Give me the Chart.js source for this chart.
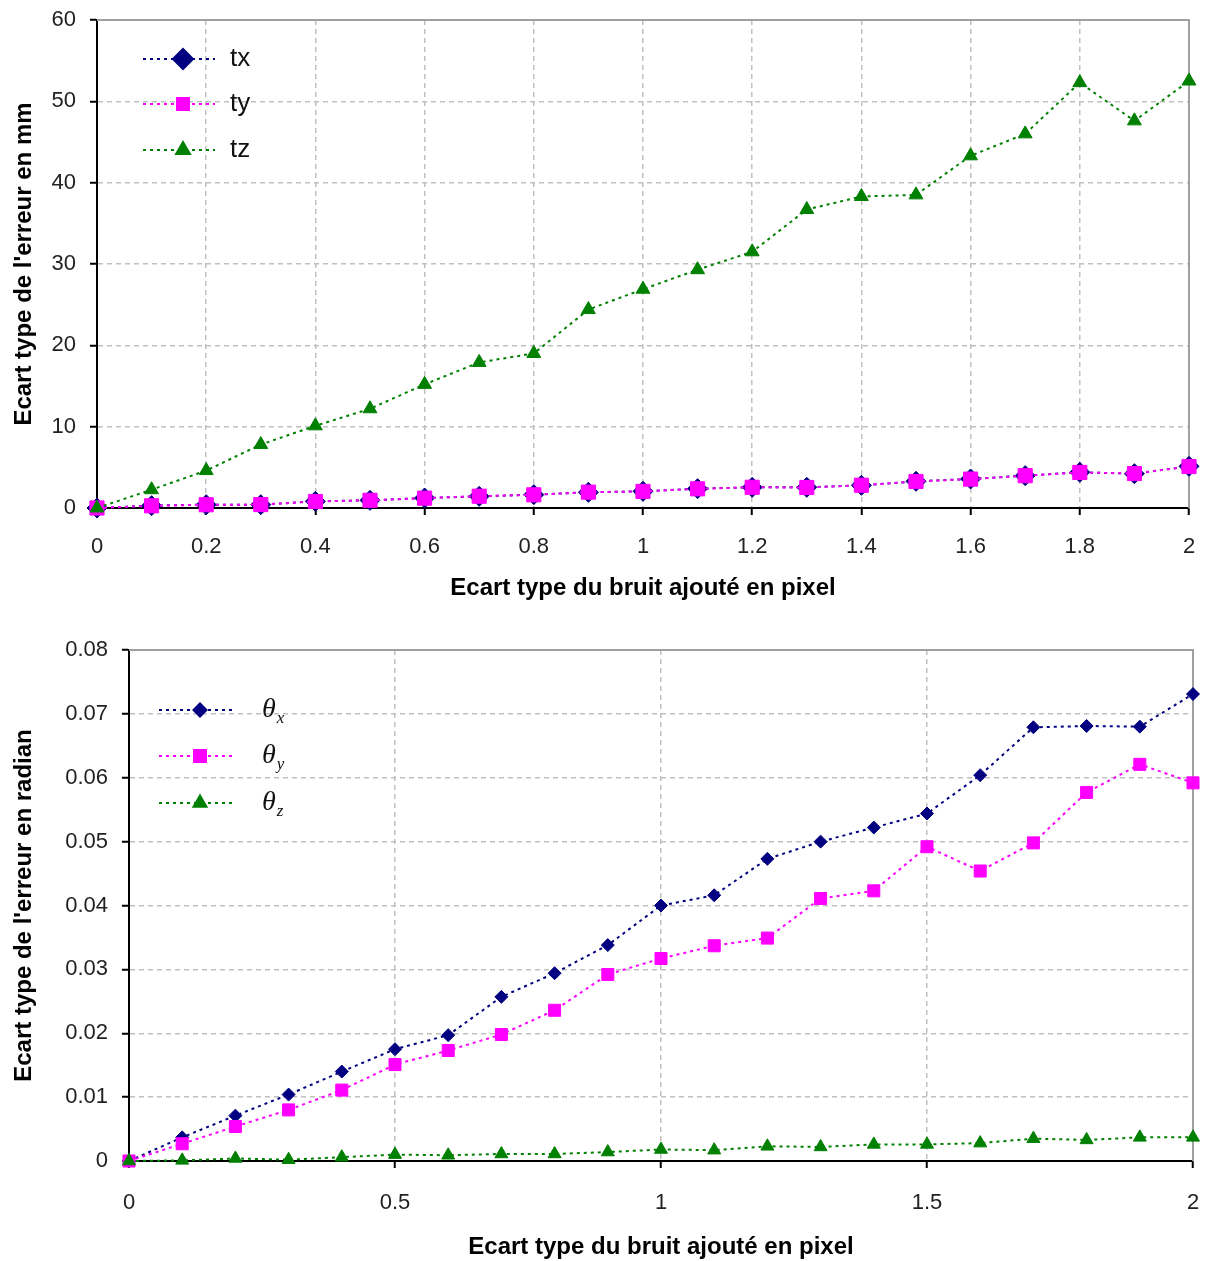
<!DOCTYPE html>
<html lang="fr">
<head>
<meta charset="utf-8">
<title>Ecart type de l'erreur</title>
<script src="https://cdn.jsdelivr.net/npm/chart.js@4.4.1/dist/chart.umd.min.js"></script>
<style>
  html, body { margin: 0; padding: 0; background: #fff; }
  #wrap { position: relative; width: 1206px; height: 1261px; }
  #wrap canvas { position: absolute; left: 0; }
  #transChart { top: 0; }
  #rotChart { top: 600px; }
</style>
</head>
<body>
<div id="wrap">
  <canvas id="transChart" width="1206" height="600"></canvas>
  <canvas id="rotChart" width="1206" height="661"></canvas>
</div>
<script>
// Ecart type du bruit ajouté (pixel)
const noise = [0, 0.1, 0.2, 0.3, 0.4, 0.5, 0.6, 0.7, 0.8, 0.9, 1, 1.1, 1.2, 1.3, 1.4, 1.5, 1.6, 1.7, 1.8, 1.9, 2];

// translation error (mm)
const tx = [0, 0.29, 0.41, 0.41, 0.82, 0.94, 1.23, 1.43, 1.64, 1.93, 2.05, 2.38, 2.54, 2.54, 2.79, 3.28, 3.57, 3.98, 4.39, 4.22, 5.12];
const ty = [0, 0.27, 0.40, 0.42, 0.80, 0.95, 1.21, 1.45, 1.62, 1.95, 2.04, 2.36, 2.55, 2.52, 2.80, 3.26, 3.55, 3.97, 4.37, 4.24, 5.10];
const tz = [0, 2.25, 4.6, 7.8, 10.1, 12.2, 15.2, 17.9, 19.0, 24.4, 26.9, 29.3, 31.5, 36.7, 38.3, 38.5, 43.3, 46.0, 52.3, 47.6, 52.5];

// rotation error (radian)
const thetaX = [0, 0.0037, 0.0071, 0.0104, 0.0140, 0.0175, 0.0197, 0.0257, 0.0294, 0.0338, 0.0400, 0.0416, 0.0473, 0.0500, 0.0522, 0.0544, 0.0604, 0.0679, 0.0681, 0.0680, 0.0731];
const thetaY = [0, 0.0027, 0.0054, 0.0080, 0.0111, 0.0151, 0.0173, 0.0198, 0.0236, 0.0292, 0.0317, 0.0337, 0.0349, 0.0411, 0.0423, 0.0492, 0.0454, 0.0498, 0.0577, 0.0621, 0.0592];
const thetaZ = [0, 0.0001, 0.0004, 0.0002, 0.0006, 0.0010, 0.0009, 0.0011, 0.0011, 0.0014, 0.0018, 0.0017, 0.0023, 0.0022, 0.0026, 0.0026, 0.0028, 0.0035, 0.0033, 0.0037, 0.0037];

const transLabels = ['tx', 'ty', 'tz'];
const rotLabels = [['θ', 'x'], ['θ', 'y'], ['θ', 'z']];

const xTitle = 'Ecart type du bruit ajouté en pixel';
const yTitleTrans = "Ecart type de l'erreur en mm";
const yTitleRot = "Ecart type de l'erreur en radian";

const NAVY = '#000080', MAGENTA = '#ff00ff', GREEN = '#008000';

Chart.defaults.font.family = '"Liberation Sans", Arial, sans-serif';
Chart.defaults.color = '#222';

const toPoints = (ys) => noise.map((x, i) => ({ x: x, y: ys[i] }));
const fmt = (v) => String(Number(v.toFixed(3)));

function series(label, ys, color, style, radius, order) {
  return {
    label: label,
    data: toPoints(ys),
    borderColor: color,
    backgroundColor: color,
    pointBackgroundColor: color,
    pointBorderColor: color,
    borderWidth: 2,
    borderDash: [3, 4],
    pointStyle: style,
    pointRadius: radius,
    pointBorderWidth: 1,
    tension: 0,
    clip: false,
    order: order
  };
}

// gray frame on top / right of the plot area
const plotFrame = {
  id: 'plotFrame',
  beforeDatasetsDraw(chart) {
    const { ctx, chartArea: a } = chart;
    ctx.save();
    ctx.strokeStyle = '#a0a0a0';
    ctx.lineWidth = 2;
    ctx.beginPath();
    ctx.moveTo(a.left, a.top);
    ctx.lineTo(a.right, a.top);
    ctx.lineTo(a.right, a.bottom);
    ctx.stroke();
    ctx.restore();
  }
};

// legend drawn inside the plot, top-left
const insideLegend = {
  id: 'insideLegend',
  afterDatasetsDraw(chart, args, opts) {
    const ctx = chart.ctx;
    ctx.save();
    opts.labels.forEach((lab, i) => {
      const ds = chart.data.datasets[i];
      const y = opts.rows[i];
      ctx.strokeStyle = ds.borderColor;
      ctx.lineWidth = 2;
      ctx.setLineDash(ds.borderDash);
      ctx.beginPath();
      ctx.moveTo(opts.x0, y);
      ctx.lineTo(opts.x1, y);
      ctx.stroke();
      ctx.setLineDash([]);
      ctx.fillStyle = ds.pointBackgroundColor;
      ctx.strokeStyle = ds.pointBorderColor;
      Chart.helpers.drawPoint(ctx, { pointStyle: ds.pointStyle, radius: opts.radius[i], borderWidth: 1, rotation: 0 }, opts.xm, y);
      ctx.fillStyle = '#111';
      ctx.textBaseline = 'middle';
      ctx.textAlign = 'left';
      if (Array.isArray(lab)) {
        ctx.font = 'italic 28px "Liberation Serif", "DejaVu Serif", serif';
        ctx.fillText(lab[0], opts.xt, y);
        const w = ctx.measureText(lab[0]).width;
        ctx.font = 'italic 17px "Liberation Serif", "DejaVu Serif", serif';
        ctx.fillText(lab[1], opts.xt + w + 1, y + 9);
      } else {
        ctx.font = '26px "Liberation Sans", Arial, sans-serif';
        ctx.fillText(lab, opts.xt, y);
      }
    });
    ctx.restore();
  }
};

function axes(cfg) {
  const grid = {
    color: '#c0c0c0',
    lineWidth: 1.5,
    tickColor: '#000',
    tickWidth: 2,
    tickLength: 7,
    tickBorderDash: []
  };
  const border = { color: '#000', width: 2, dash: [5, 4] };
  return {
    x: {
      type: 'linear',
      min: 0,
      max: 2,
      afterFit: (s) => { s.height = cfg.xHeight; s.paddingLeft = 0; s.paddingRight = 0; },
      ticks: { stepSize: cfg.xStep, font: { size: 22 }, padding: cfg.xPad, maxRotation: 0, callback: fmt },
      grid: grid,
      border: border,
      title: { display: true, text: xTitle, color: '#000', font: { size: 24, weight: 'bold', lineHeight: 1 }, padding: { top: 0, bottom: cfg.xTitlePad } }
    },
    y: {
      min: 0,
      max: cfg.yMax,
      afterFit: (s) => { s.width = cfg.yWidth; s.paddingTop = 0; s.paddingBottom = 0; },
      ticks: { stepSize: cfg.yStep, font: { size: 22 }, padding: 14, callback: fmt },
      grid: grid,
      border: border,
      title: { display: true, text: cfg.yTitle, color: '#000', font: { size: 24, weight: 'bold' }, padding: { top: 10, bottom: 0 } }
    }
  };
}

const common = {
  responsive: false,
  devicePixelRatio: 1,
  animation: false,
  events: [],
};

new Chart(document.getElementById('transChart'), {
  type: 'line',
  data: {
    datasets: [
      series(transLabels[0], tx, NAVY, 'rectRot', 10, 2),
      series(transLabels[1], ty, MAGENTA, 'rect', 10, 1),
      series(transLabels[2], tz, GREEN, 'triangle', 8, 0)
    ]
  },
  options: Object.assign({}, common, {
    layout: { padding: { top: 20, right: 17, left: 0, bottom: 0 } },
    scales: axes({ xHeight: 92, xStep: 0.2, xPad: 19, xTitlePad: 0, yMax: 60, yStep: 10, yWidth: 97, yTitle: yTitleTrans }),
    plugins: {
      legend: { display: false },
      tooltip: { enabled: false },
      insideLegend: { labels: transLabels, rows: [59, 104, 150], x0: 143, x1: 215, xm: 183, xt: 230, radius: [10, 8.5, 8] }
    }
  }),
  plugins: [plotFrame, insideLegend]
});

new Chart(document.getElementById('rotChart'), {
  type: 'line',
  data: {
    datasets: [
      series('θx', thetaX, NAVY, 'rectRot', 6.5, 2),
      series('θy', thetaY, MAGENTA, 'rect', 8.5, 1),
      series('θz', thetaZ, GREEN, 'triangle', 7.5, 0)
    ]
  },
  options: Object.assign({}, common, {
    layout: { padding: { top: 50, right: 13, left: 0, bottom: 0 } },
    scales: axes({ xHeight: 100, xStep: 0.5, xPad: 22, xTitlePad: 2, yMax: 0.08, yStep: 0.01, yWidth: 129, yTitle: yTitleRot }),
    plugins: {
      legend: { display: false },
      tooltip: { enabled: false },
      insideLegend: { labels: rotLabels, rows: [110, 156, 203], x0: 159, x1: 236, xm: 200, xt: 262, radius: [6.5, 8.5, 7.5] }
    }
  }),
  plugins: [plotFrame, insideLegend]
});
</script>
</body>
</html>
